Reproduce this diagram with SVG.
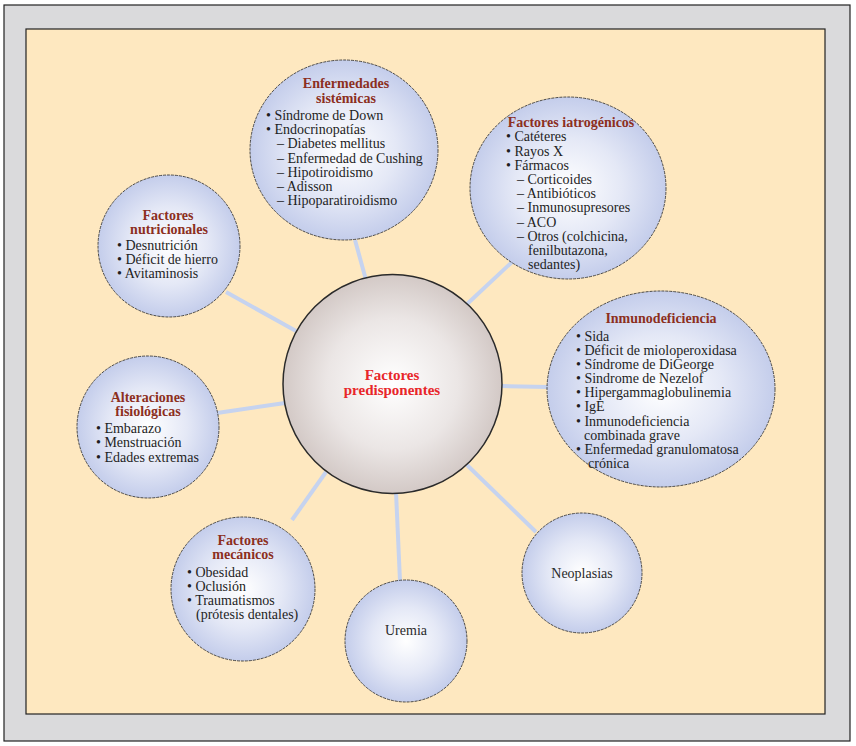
<svg xmlns="http://www.w3.org/2000/svg" width="856" height="746" viewBox="0 0 856 746">
<defs>
<radialGradient id="gb" cx="50%" cy="50%" r="50%">
<stop offset="0" stop-color="#ffffff"/>
<stop offset="0.55" stop-color="#e4e8f6"/>
<stop offset="1" stop-color="#c4cdeb"/>
</radialGradient>
<radialGradient id="gc" cx="50%" cy="50%" r="50%">
<stop offset="0" stop-color="#ffffff"/>
<stop offset="0.6" stop-color="#ebe6e5"/>
<stop offset="1" stop-color="#d3c9c6"/>
</radialGradient>
<style>
.n{fill:url(#gb);stroke:#3a3a3a;stroke-width:0.9;stroke-dasharray:3 1}
.c{fill:url(#gc);stroke:#2a2a2a;stroke-width:1.5}
.t{font-family:"Liberation Serif",serif;font-size:14px;font-weight:bold;fill:#8c2f1e;text-anchor:middle}
.b{font-family:"Liberation Serif",serif;font-size:14px;fill:#1e1e1e}
.m{font-family:"Liberation Serif",serif;font-size:14px;fill:#2a2a2a;text-anchor:middle}
.ct{font-family:"Liberation Serif",serif;font-size:15px;font-weight:bold;fill:#e8262a;text-anchor:middle}
.l{stroke:#c6d3ef;stroke-width:4;fill:none}
</style>
</defs>
<rect x="4" y="5" width="846" height="736" fill="#dadadc" stroke="#222" stroke-width="1.2"/>
<rect x="26" y="29" width="799" height="685" fill="#fee8c0" stroke="#222" stroke-width="1.2"/>
<g id="connectors">
<line class="l" x1="355" y1="240" x2="366" y2="280"/>
<line class="l" x1="512" y1="262" x2="466" y2="305"/>
<line class="l" x1="502" y1="386" x2="548" y2="387"/>
<line class="l" x1="226" y1="292" x2="296" y2="331"/>
<line class="l" x1="217" y1="413" x2="285" y2="403"/>
<line class="l" x1="292" y1="520" x2="326" y2="472"/>
<line class="l" x1="396" y1="492" x2="400" y2="581"/>
<line class="l" x1="467" y1="465" x2="536" y2="532"/>
</g>
<g id="enfermedades">
<ellipse class="n" cx="344" cy="150" rx="94" ry="90"/>
<text class="t" x="346" y="88">Enfermedades</text>
<text class="t" x="346" y="103">sistémicas</text>
<text class="b" x="266" y="120">• Síndrome de Down</text>
<text class="b" x="266" y="134">• Endocrinopatías</text>
<text class="b" x="277" y="148">– Diabetes mellitus</text>
<text class="b" x="277" y="163">– Enfermedad de Cushing</text>
<text class="b" x="277" y="177">– Hipotiroidismo</text>
<text class="b" x="277" y="191">– Adisson</text>
<text class="b" x="277" y="205">– Hipoparatiroidismo</text>
</g>
<g id="iatrogenicos">
<ellipse class="n" cx="568" cy="188" rx="98" ry="91"/>
<text class="t" x="571" y="127">Factores iatrogénicos</text>
<text class="b" x="506" y="141">• Catéteres</text>
<text class="b" x="506" y="156">• Rayos X</text>
<text class="b" x="506" y="170">• Fármacos</text>
<text class="b" x="517" y="184">– Corticoides</text>
<text class="b" x="517" y="198">– Antibióticos</text>
<text class="b" x="517" y="212">– Inmunosupresores</text>
<text class="b" x="517" y="227">– ACO</text>
<text class="b" x="517" y="241">– Otros (colchicina,</text>
<text class="b" x="528" y="255">fenilbutazona,</text>
<text class="b" x="528" y="269">sedantes)</text>
</g>
<g id="inmunodeficiencia">
<ellipse class="n" cx="661" cy="389" rx="114" ry="98"/>
<text class="t" x="661" y="323">Inmunodeficiencia</text>
<text class="b" x="576" y="341">• Sida</text>
<text class="b" x="576" y="355">• Déficit de mioloperoxidasa</text>
<text class="b" x="576" y="369">• Síndrome de DiGeorge</text>
<text class="b" x="576" y="383">• Sindrome de Nezelof</text>
<text class="b" x="576" y="397">• Hipergammaglobulinemia</text>
<text class="b" x="576" y="411">• IgE</text>
<text class="b" x="576" y="426">• Inmunodeficiencia</text>
<text class="b" x="584" y="440">combinada grave</text>
<text class="b" x="576" y="454">• Enfermedad granulomatosa</text>
<text class="b" x="588" y="468">crónica</text>
</g>
<g id="nutricionales">
<circle class="n" cx="169" cy="246" r="71"/>
<text class="t" x="168" y="220">Factores</text>
<text class="t" x="169" y="234">nutricionales</text>
<text class="b" x="117" y="250">• Desnutrición</text>
<text class="b" x="117" y="264">• Déficit de hierro</text>
<text class="b" x="117" y="278">• Avitaminosis</text>
</g>
<g id="alteraciones">
<circle class="n" cx="148" cy="427" r="71"/>
<text class="t" x="148" y="402">Alteraciones</text>
<text class="t" x="148" y="416">fisiológicas</text>
<text class="b" x="96" y="433">• Embarazo</text>
<text class="b" x="96" y="447">• Menstruación</text>
<text class="b" x="96" y="462">• Edades extremas</text>
</g>
<g id="mecanicos">
<circle class="n" cx="243" cy="589" r="72"/>
<text class="t" x="243" y="545">Factores</text>
<text class="t" x="243" y="559">mecánicos</text>
<text class="b" x="187" y="577">• Obesidad</text>
<text class="b" x="187" y="591">• Oclusión</text>
<text class="b" x="187" y="605">• Traumatismos</text>
<text class="b" x="196" y="619">(prótesis dentales)</text>
</g>
<g id="uremia">
<circle class="n" cx="406" cy="641" r="61"/>
<text class="m" x="406" y="635">Uremia</text>
</g>
<g id="neoplasias">
<circle class="n" cx="582" cy="573" r="60"/>
<text class="m" x="582" y="578">Neoplasias</text>
</g>
<g id="predisponentes">
<circle class="c" cx="392.5" cy="384" r="109.5"/>
<text class="ct" x="392" y="380">Factores</text>
<text class="ct" x="392" y="395">predisponentes</text>
</g>
</svg>
